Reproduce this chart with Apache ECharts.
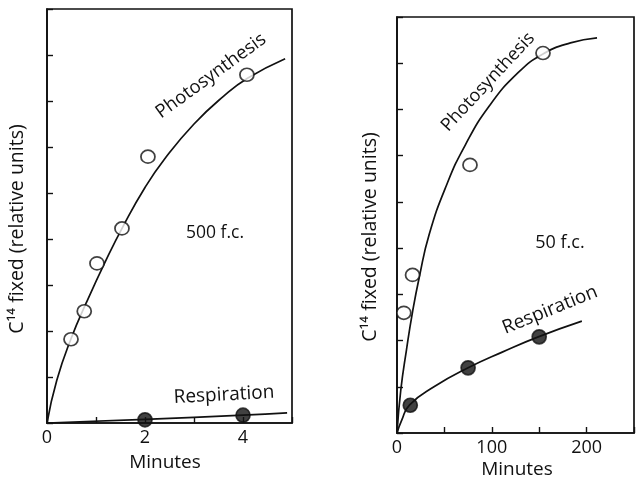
<!DOCTYPE html>
<html>
<head>
<meta charset="utf-8">
<script src="https://cdn.jsdelivr.net/npm/echarts@6/dist/echarts.min.js"></script>
<style>
html,body{margin:0;padding:0;background:#fff;}
#chart{width:637px;height:479px;}
</style>
</head>
<body>
<div id="chart"></div>
<script>
// ---- Left panel (500 f.c.), x in minutes ----
var leftPhotoX = [0.49, 0.76, 1.02, 1.53, 2.06, 4.08];
var leftPhotoY = [1.82, 2.43, 3.47, 4.23, 5.79, 7.57];
var leftPhotoCurveX = [0, 0.2, 0.5, 0.8, 1.2, 1.55, 2.0, 2.4, 3.0, 3.6, 4.1, 4.86];
var leftPhotoCurveY = [0, 0.93, 1.86, 2.61, 3.53, 4.27, 5.12, 5.74, 6.5, 7.1, 7.5, 7.92];
var leftRespX = [2.0, 4.0];
var leftRespY = [0.07, 0.17];
var leftRespCurveX = [0, 2.0, 4.0, 4.9];
var leftRespCurveY = [0, 0.08, 0.17, 0.22];
var leftXTickLabels = ['0', '2', '4'];

// ---- Right panel (50 f.c.), x in minutes ----
var rightPhotoX = [7.2, 16.4, 77, 154];
var rightPhotoY = [2.6, 3.42, 5.8, 8.22];
var rightPhotoCurveX = [0, 4, 10, 16.4, 23.6, 34, 52, 72, 97.5, 128, 154, 183, 211];
var rightPhotoCurveY = [0, 0.93, 1.8, 2.62, 3.38, 4.3, 5.35, 6.23, 7.08, 7.8, 8.2, 8.44, 8.55];
var rightRespX = [14, 75, 150];
var rightRespY = [0.6, 1.41, 2.08];
var rightRespCurveX = [0, 5, 13.3, 39, 75, 111, 149, 195];
var rightRespCurveY = [0, 0.28, 0.61, 1.0, 1.41, 1.75, 2.08, 2.42];
var rightXTickLabels = ['0', '100', '200'];

var yTitle = 'C\u00B9\u2074 fixed (relative units)';
var xTitle = 'Minutes';

function pairs(xs, ys) { return xs.map(function (x, i) { return [x, ys[i]]; }); }

var FONT = 'Open Sans';
var black = '#111';

function xAxisCfg(idx, max, interval, labels) {
  return {
    type: 'value', gridIndex: idx, min: 0, max: max, interval: interval,
    axisLine: { show: true, onZero: false, lineStyle: { color: black, width: 1.7 } },
    axisTick: { show: true, inside: true, length: 6, lineStyle: { color: black, width: 1.4 } },
    axisLabel: {
      show: true, margin: 6, color: black, fontFamily: FONT, fontSize: 18,
      formatter: function (v) { var s = String(v); return labels.indexOf(s) >= 0 ? s : ''; }
    },
    splitLine: { show: false }
  };
}
function yAxisCfg(idx) {
  return {
    type: 'value', gridIndex: idx, min: 0, max: 9, interval: 1,
    axisLine: { show: true, onZero: false, lineStyle: { color: black, width: 1.7 } },
    axisTick: { show: true, inside: true, length: 6, lineStyle: { color: black, width: 1.4 } },
    axisLabel: { show: false },
    splitLine: { show: false }
  };
}
function curve(name, xi, data) {
  return {
    name: name, type: 'line', xAxisIndex: xi, yAxisIndex: xi, data: data,
    smooth: true, showSymbol: false, silent: true,
    lineStyle: { color: black, width: 1.7 }, z: 2
  };
}
function dots(name, xi, data, filled, size) {
  return {
    name: name, type: 'scatter', xAxisIndex: xi, yAxisIndex: xi, data: data,
    symbol: 'circle', symbolSize: size,
    itemStyle: { color: filled ? black : '#fff', borderColor: black, borderWidth: 1.7 }, z: 3
  };
}
function txt(str, x, y, deg, size) {
  return {
    type: 'text', x: x, y: y, rotation: (deg || 0) * Math.PI / 180,
    style: { text: str, fill: black, font: (size || 16) + 'px "' + FONT + '"', align: 'center', verticalAlign: 'middle' }
  };
}

var chart = echarts.init(document.getElementById('chart'), null, { renderer: 'canvas' });
chart.setOption({
  backgroundColor: '#fff',
  animation: false,
  grid: [
    { left: 47, top: 9, width: 245, bottom: 56, show: true, borderColor: black, borderWidth: 1.7, backgroundColor: 'transparent' },
    { left: 397, top: 17, right: -4, bottom: 46, show: true, borderColor: black, borderWidth: 1.7, backgroundColor: 'transparent' }
  ],
  xAxis: [xAxisCfg(0, 5, 1, leftXTickLabels), xAxisCfg(1, 250, 50, rightXTickLabels)],
  yAxis: [yAxisCfg(0), yAxisCfg(1)],
  series: [
    curve('Photosynthesis curve (500 f.c.)', 0, pairs(leftPhotoCurveX, leftPhotoCurveY)),
    curve('Respiration curve (500 f.c.)', 0, pairs(leftRespCurveX, leftRespCurveY)),
    dots('Photosynthesis (500 f.c.)', 0, pairs(leftPhotoX, leftPhotoY), false, [14, 13]),
    dots('Respiration (500 f.c.)', 0, pairs(leftRespX, leftRespY), true, 14),
    curve('Photosynthesis curve (50 f.c.)', 1, pairs(rightPhotoCurveX, rightPhotoCurveY)),
    curve('Respiration curve (50 f.c.)', 1, pairs(rightRespCurveX, rightRespCurveY)),
    dots('Photosynthesis (50 f.c.)', 1, pairs(rightPhotoX, rightPhotoY), false, [14, 13]),
    dots('Respiration (50 f.c.)', 1, pairs(rightRespX, rightRespY), true, 14)
  ],
  graphic: [
    txt('Photosynthesis', 211, 76, 36, 18.5),
    txt('500 f.c.', 215, 233, 0, 17.5),
    txt('Respiration', 224, 395, 3, 19),
    txt(yTitle, 17, 229, 90, 19.5),
    txt(xTitle, 165, 463, 0, 19),
    txt('Photosynthesis', 488, 82, 47, 18),
    txt('50 f.c.', 560, 243, 0, 18),
    txt('Respiration', 550, 310, 22, 19),
    txt(yTitle, 370, 237, 90, 19.5),
    txt(xTitle, 517, 470, 0, 19)
  ]
});
</script>
</body>
</html>
